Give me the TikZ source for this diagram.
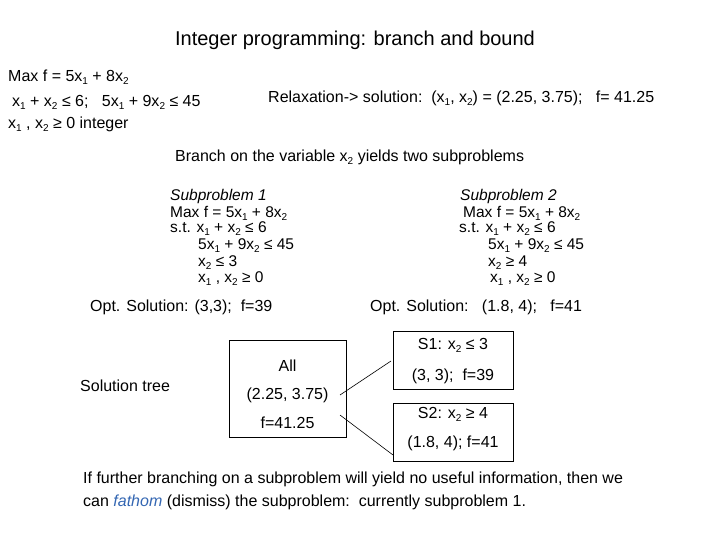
\documentclass[tikz,border=0pt]{standalone}
\usepackage{fontspec}
\setmainfont{Liberation Sans}
\newcommand{\subxq}[1]{\raisebox{-0.35ex}{\fontsize{10}{10}\selectfont #1}}
\begin{document}
\begin{tikzpicture}[x=1pt,y=-1pt,
  t/.style={anchor=west,inner sep=0pt,font=\fontsize{16}{16}\selectfont},
  sp/.style={anchor=west,inner sep=0pt,font=\fontsize{15.5}{15.5}\selectfont},
  tb/.style={inner sep=0pt,font=\fontsize{16}{16}\selectfont},
  box/.style={draw,line width=0.8pt}]
\useasboundingbox (0,0) rectangle (720,540);
\node[inner sep=0pt,font=\fontsize{20}{20}\selectfont] (title) at (355,40) {Integer programming: branch and bound};
\node[t] (p1) at (8,77) {Max f = 5x\subxq1 + 8x\subxq2};
\node[t] (p2) at (12,102) {x\subxq1 + x\subxq2 ≤ 6;\ \ \ 5x\subxq1 + 9x\subxq2 ≤ 45};
\node[t] (p3) at (8,124) {x\subxq1 , x\subxq2 ≥ 0 integer};
\node[t] (rel) at (268,98) {Relaxation-> solution:\ \ (x\subxq1, x\subxq2) = (2.25, 3.75);\ \ \ f= 41.25};
\node[t] (br) at (175,157) {Branch on the variable x\subxq2 yields two subproblems};
\node[sp] (a1) at (170,196) {\itshape Subproblem 1};
\node[sp] (a2) at (170,213) {Max f = 5x\subxq1 + 8x\subxq2};
\node[sp] (a3) at (170,229) {s.t. x\subxq1 + x\subxq2 ≤ 6};
\node[sp] (a4) at (198,246) {5x\subxq1 + 9x\subxq2 ≤ 45};
\node[sp] (a5) at (198,263) {x\subxq2 ≤ 3};
\node[sp] (a6) at (198,279) {x\subxq1 , x\subxq2 ≥ 0};
\node[sp] (b1) at (460,196) {\itshape Subproblem 2};
\node[sp] (b2) at (463,213) {Max f = 5x\subxq1 + 8x\subxq2};
\node[sp] (b3) at (459,229) {s.t. x\subxq1 + x\subxq2 ≤ 6};
\node[sp] (b4) at (488,246) {5x\subxq1 + 9x\subxq2 ≤ 45};
\node[sp] (b5) at (488,263) {x\subxq2 ≥ 4};
\node[sp] (b6) at (490,279) {x\subxq1 , x\subxq2 ≥ 0};
\node[t] (o1) at (90,307) {Opt. Solution: (3,3);\ \ f=39};
\node[t] (o2) at (370,307) {Opt. Solution:\ \ \ (1.8, 4);\ \ \ f=41};
\node[t] (st) at (80,386) {Solution tree};
\draw[box] (229,340) rectangle (346,437);
\coordinate (allA) at (340,395);
\coordinate (allB) at (340,415);
\node[tb] (all1) at (287.5,366) {All};
\node[tb] (all2) at (287.5,395) {(2.25, 3.75)};
\node[tb] (all3) at (287.5,423) {f=41.25};
\draw[box] (393,331) rectangle (513,389);
\node[tb] (s11) at (453,345) {S1: x\subxq2 ≤ 3};
\node[tb] (s12) at (453,376) {(3, 3);\ \ f=39};
\draw[box] (393,403) rectangle (513,461);
\node[tb] (s21) at (453,414) {S2: x\subxq2 ≥ 4};
\node[tb] (s22) at (453,443) {(1.8, 4); f=41};
\coordinate (s1in) at (391,361);
\coordinate (s2in) at (393,455);
\draw[line width=0.6pt] (allA) -- (s1in);
\draw[line width=0.6pt] (allB) -- (s2in);
\node[t] (f1) at (83,479) {If further branching on a subproblem will yield no useful information, then we};
\node[t] (f2) at (83,502) {can \textit{\color[rgb]{0.2,0.4,0.7}fathom} (dismiss) the subproblem:\ \ currently subproblem 1.};
\end{tikzpicture}
\end{document}
